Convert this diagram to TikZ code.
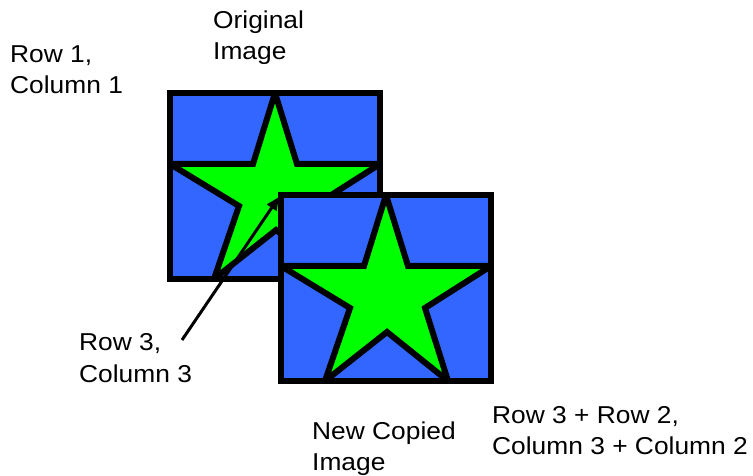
\documentclass[tikz,border=0pt]{standalone}
\usepackage{fontspec}
\setmainfont{Liberation Sans}[FakeStretch=1.08]
\usetikzlibrary{arrows.meta}
\definecolor{boxblue}{RGB}{51,102,255}
\definecolor{stargreen}{RGB}{0,255,0}
\tikzset{
  lbl/.style={anchor=base west, inner sep=0pt, align=left,
    font=\fontsize{24.4bp}{31bp}\selectfont},
  imgbox/.style={fill=boxblue},
  imgedge/.style={draw=black, line width=6bp, miter limit=10},
  starshape/.style={fill=stargreen, draw=black, line width=6bp, line join=miter, miter limit=10},
  pointer/.style={draw=black, line width=3bp, -{Triangle[length=13bp,width=11bp]}}
}
\newcommand\drawstarbox[2]{%
  \begin{scope}[shift={(#1,#2)}]
    \fill[imgbox] (0,0) rectangle (210,186);
    \begin{scope}
      \clip (0,0) rectangle (210,186);
      \path[starshape] (105,0) -- (127,71) -- (210,71) -- (144,113) -- (167,186)
        -- (106,137) -- (44,186) -- (69,113) -- (0,71) -- (83,71) -- cycle;
    \end{scope}
    \draw[imgedge] (0,0) rectangle (210,186);
  \end{scope}}
\begin{document}
\begin{tikzpicture}[x=1bp,y=-1bp]
\useasboundingbox (0,0) rectangle (753,476);
\node[lbl] (orig) at (213,60) {Original\\Image};
\node[lbl] (r1c1) at (10,94) {Row 1,\\Column 1};
\node[lbl] (r3c3) at (79,382) {Row 3,\\Column 3};
\node[lbl] (newimg) at (312,470) {New Copied\\Image};
\node[lbl] (sum) at (492,454) {Row 3 + Row 2,\\Column 3 + Column 2};
\drawstarbox{170}{93}
\coordinate (arrstart) at (182,340);
\coordinate (arrend) at (279,197);
\draw[pointer] (arrstart) -- (arrend);
\drawstarbox{281}{195}
\end{tikzpicture}
\end{document}
